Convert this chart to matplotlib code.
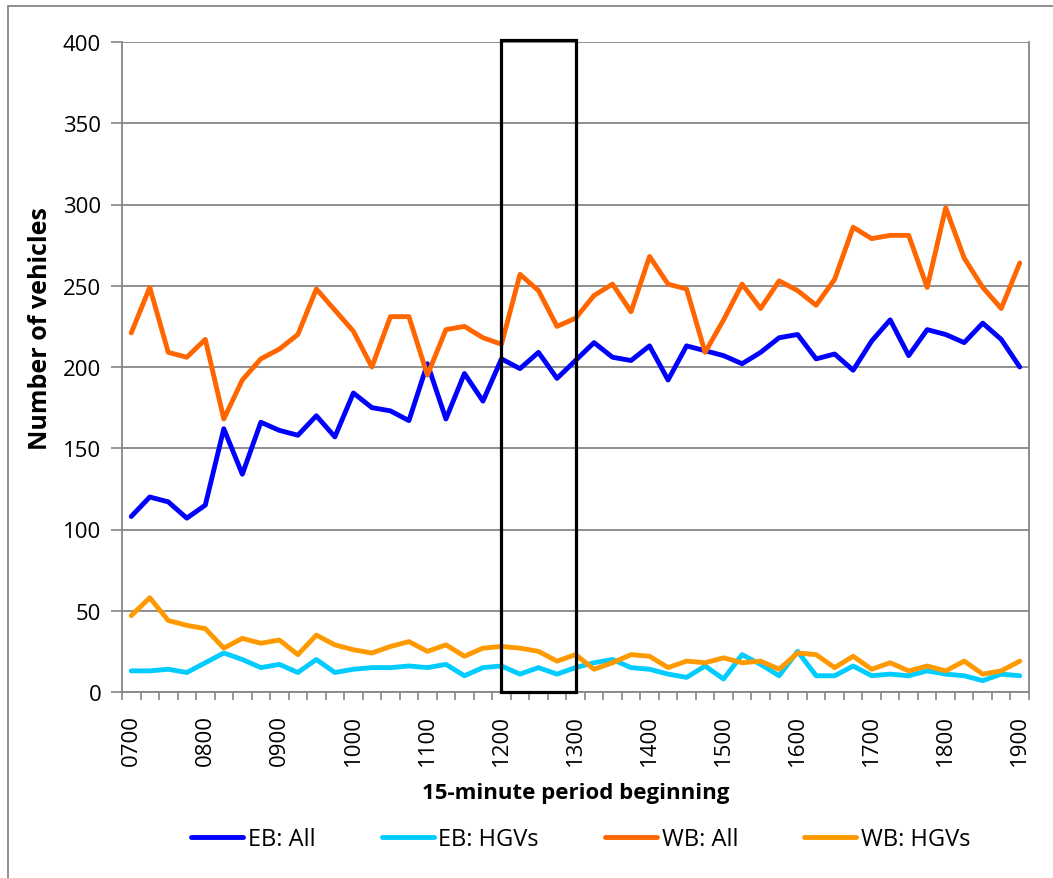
import matplotlib
matplotlib.use("Agg")
import matplotlib.pyplot as plt
from matplotlib.patches import Rectangle

plt.rcParams['font.family'] = ['Open Sans', 'DejaVu Sans']

# 15-minute periods from 0700 to 1900
periods = [f"{h:02d}{m:02d}" for h in range(7, 19) for m in (0, 15, 30, 45)] + ["1900"]

eb_all = [108, 120, 117, 107, 115, 162, 134, 166, 161, 158, 170, 157, 184, 175, 173, 167,
          202, 168, 196, 179, 205, 199, 209, 193, 204, 215, 206, 204, 213, 192, 213, 210,
          207, 202, 209, 218, 220, 205, 208, 198, 216, 229, 207, 223, 220, 215, 227, 217, 200]
eb_hgv = [13, 13, 14, 12, 18, 24, 20, 15, 17, 12, 20, 12, 14, 15, 15, 16,
          15, 17, 10, 15, 16, 11, 15, 11, 15, 18, 20, 15, 14, 11, 9, 16,
          8, 23, 17, 10, 25, 10, 10, 16, 10, 11, 10, 13, 11, 10, 7, 11, 10]
wb_all = [221, 249, 209, 206, 217, 168, 192, 205, 211, 220, 248, 235, 222, 200, 231, 231,
          195, 223, 225, 218, 214, 257, 247, 225, 230, 244, 251, 234, 268, 251, 248, 209,
          229, 251, 236, 253, 247, 238, 254, 286, 279, 281, 281, 249, 298, 267, 249, 236, 264]
wb_hgv = [47, 58, 44, 41, 39, 27, 33, 30, 32, 23, 35, 29, 26, 24, 28, 31,
          25, 29, 22, 27, 28, 27, 25, 19, 23, 14, 18, 23, 22, 15, 19, 18,
          21, 18, 19, 14, 24, 23, 15, 22, 14, 18, 13, 16, 13, 19, 11, 13, 19]

series = [("EB: All", eb_all, "#0000FF"),
          ("EB: HGVs", eb_hgv, "#00CCFF"),
          ("WB: All", wb_all, "#FF6600"),
          ("WB: HGVs", wb_hgv, "#FF9900")]

# highlighted window (1200 to 1300)
box_start, box_end = "1200", "1300"

fig = plt.figure(figsize=(10.53, 8.79), dpi=100)
W, H = 1053, 879
ax = fig.add_axes([122 / W, 1 - 693 / H, (1029 - 122) / W, 650 / H])

# outer chart border
fig.patches.append(Rectangle((8 / W, -0.1), 1.2, 1 - 7 / H + 0.1, transform=fig.transFigure,
                             fill=False, edgecolor="#868686", lw=1.3))

x = list(range(len(periods)))
for name, vals, col in series:
    ax.plot(x, vals, color=col, lw=3.5, label=name, solid_joinstyle="round",
            solid_capstyle="round")

i0, i1 = periods.index(box_start), periods.index(box_end)
ax.add_patch(Rectangle((i0, 0), i1 - i0, 401, fill=False, edgecolor="black", lw=2.3,
                       clip_on=False, zorder=5))

ax.set_xlim(-0.5, len(periods) - 0.5)
ax.set_ylim(0, 400)
ax.set_yticks(range(0, 401, 50))
ax.yaxis.grid(True, color="#878787", lw=1.3)
ax.set_axisbelow(True)

ax.set_xticks(x[::4])
ax.set_xticklabels(periods[::4], rotation=90)
ax.set_xticks([i + 0.5 for i in range(-1, len(periods))], minor=True)
ax.tick_params(axis="x", which="major", length=0, labelsize=16, pad=16)
ax.tick_params(axis="x", which="minor", length=6, width=1.2, color="#868686")
ax.tick_params(axis="y", length=8, width=1.2, color="#868686", labelsize=16, pad=7)

for s in ax.spines.values():
    s.set_color("#868686")
    s.set_linewidth(1.3)
ax.spines["top"].set_visible(False)

ax.set_ylabel("Number of vehicles", fontsize=18, fontweight="bold")
ax.yaxis.set_label_coords(-0.076, 0.56)
ax.set_xlabel("15-minute period beginning", fontsize=16, fontweight="bold", labelpad=12)

fig.legend(loc="center", bbox_to_anchor=(581 / W, 1 - 840 / H), ncol=4, frameon=False,
           fontsize=17, handlelength=2.2, handletextpad=0.2, columnspacing=2.8)

fig.savefig("out.png", dpi=100)
